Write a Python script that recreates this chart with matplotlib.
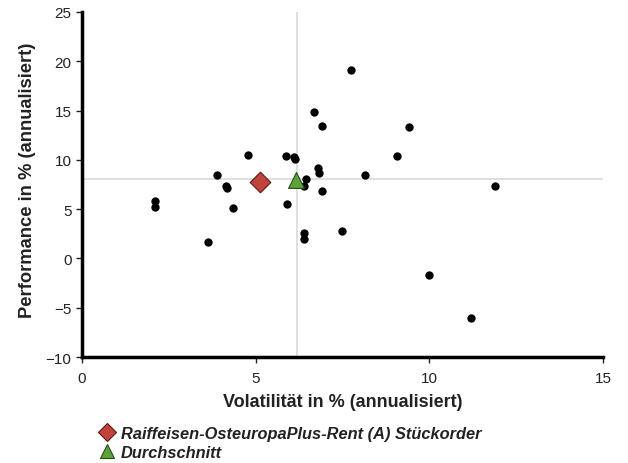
import matplotlib
matplotlib.use("Agg")
import matplotlib.pyplot as plt
from matplotlib.lines import Line2D

plt.rcParams['font.family'] = ['Liberation Sans', 'DejaVu Sans']

# peer funds (volatility %, performance %)
peer_vol = [2.1, 2.1, 3.63, 3.88, 4.15, 4.17, 4.34, 4.78, 5.88, 6.12, 6.1, 5.9,
            6.44, 6.4, 6.9, 6.8, 6.82, 6.4, 6.4, 7.48, 7.75, 6.69, 6.9,
            9.42, 9.08, 8.15, 11.9, 10.0, 11.2]
peer_perf = [5.8, 5.2, 1.65, 8.45, 7.3, 7.1, 5.07, 10.5, 10.4, 10.1, 10.3, 5.5,
             8.1, 7.3, 6.8, 9.2, 8.7, 2.6, 2.0, 2.8, 19.1, 14.9, 13.4,
             13.3, 10.4, 8.5, 7.3, -1.7, -6.0]

fund_name = "Raiffeisen-OsteuropaPlus-Rent (A) Stückorder"
fund_vol, fund_perf = 5.13, 7.74
avg_name = "Durchschnitt"
avg_vol, avg_perf = 6.16, 7.94
avg_line_x, avg_line_y = 6.18, 8.08

x_ticks = [0, 5, 10, 15]
y_ticks = [-10, -5, 0, 5, 10, 15, 20, 25]

fig = plt.figure(figsize=(6.28, 4.64), dpi=100)
ax = fig.add_axes([0.1306, 0.2284, 0.8294, 0.7436])

ax.axvline(avg_line_x, color='#d9d9d9', lw=1.2, zorder=1)
ax.axhline(avg_line_y, color='#d9d9d9', lw=1.2, zorder=1)

ax.scatter(peer_vol, peer_perf, s=36, color='black', zorder=3, linewidths=0)
ax.scatter([fund_vol], [fund_perf], marker='D', s=110, color='#c0433c',
           edgecolors='#5a1a16', linewidths=0.8, zorder=4)
ax.scatter([avg_vol], [avg_perf], marker='^', s=130, color='#5aa339',
           edgecolors='#2a4a1a', linewidths=0.8, zorder=4)

ax.set_xlim(0, 15)
ax.set_ylim(-10, 25)
ax.set_xticks(x_ticks)
ax.set_yticks(y_ticks)
ax.set_xticklabels([str(t) for t in x_ticks])
ax.set_yticklabels([str(t).replace('-', '\u2212') for t in y_ticks])

for s in ['top', 'right']:
    ax.spines[s].set_visible(False)
for s in ['left', 'bottom']:
    ax.spines[s].set_linewidth(2.5)
    ax.spines[s].set_color('black')
ax.tick_params(direction='out', length=4, width=1, labelsize=11, colors='#222222')
ax.tick_params(axis='x', pad=6)

ax.set_xlabel('Volatilität in % (annualisiert)', fontsize=13, fontweight='bold',
              color='#222222', labelpad=6)
ax.set_ylabel('Performance in % (annualisiert)', fontsize=13.2, fontweight='bold',
              color='#222222')
ax.yaxis.set_label_coords(-0.088, 0.516)

handles = [
    Line2D([], [], marker='D', linestyle='none', markersize=9,
           markerfacecolor='#c0433c', markeredgecolor='#5a1a16', markeredgewidth=0.8),
    Line2D([], [], marker='^', linestyle='none', markersize=10,
           markerfacecolor='#5aa339', markeredgecolor='#2a4a1a', markeredgewidth=0.8),
]
leg = fig.legend(handles, [fund_name, avg_name], loc='upper left',
                 bbox_to_anchor=(0.145, 0.094), frameon=False,
                 prop={'style': 'italic', 'weight': 'bold', 'size': 11.8},
                 handletextpad=0.3, labelspacing=0.25, borderaxespad=0,
                 handlelength=1.1)
for t in leg.get_texts():
    t.set_color('#222222')

fig.savefig('out.png', dpi=100)
